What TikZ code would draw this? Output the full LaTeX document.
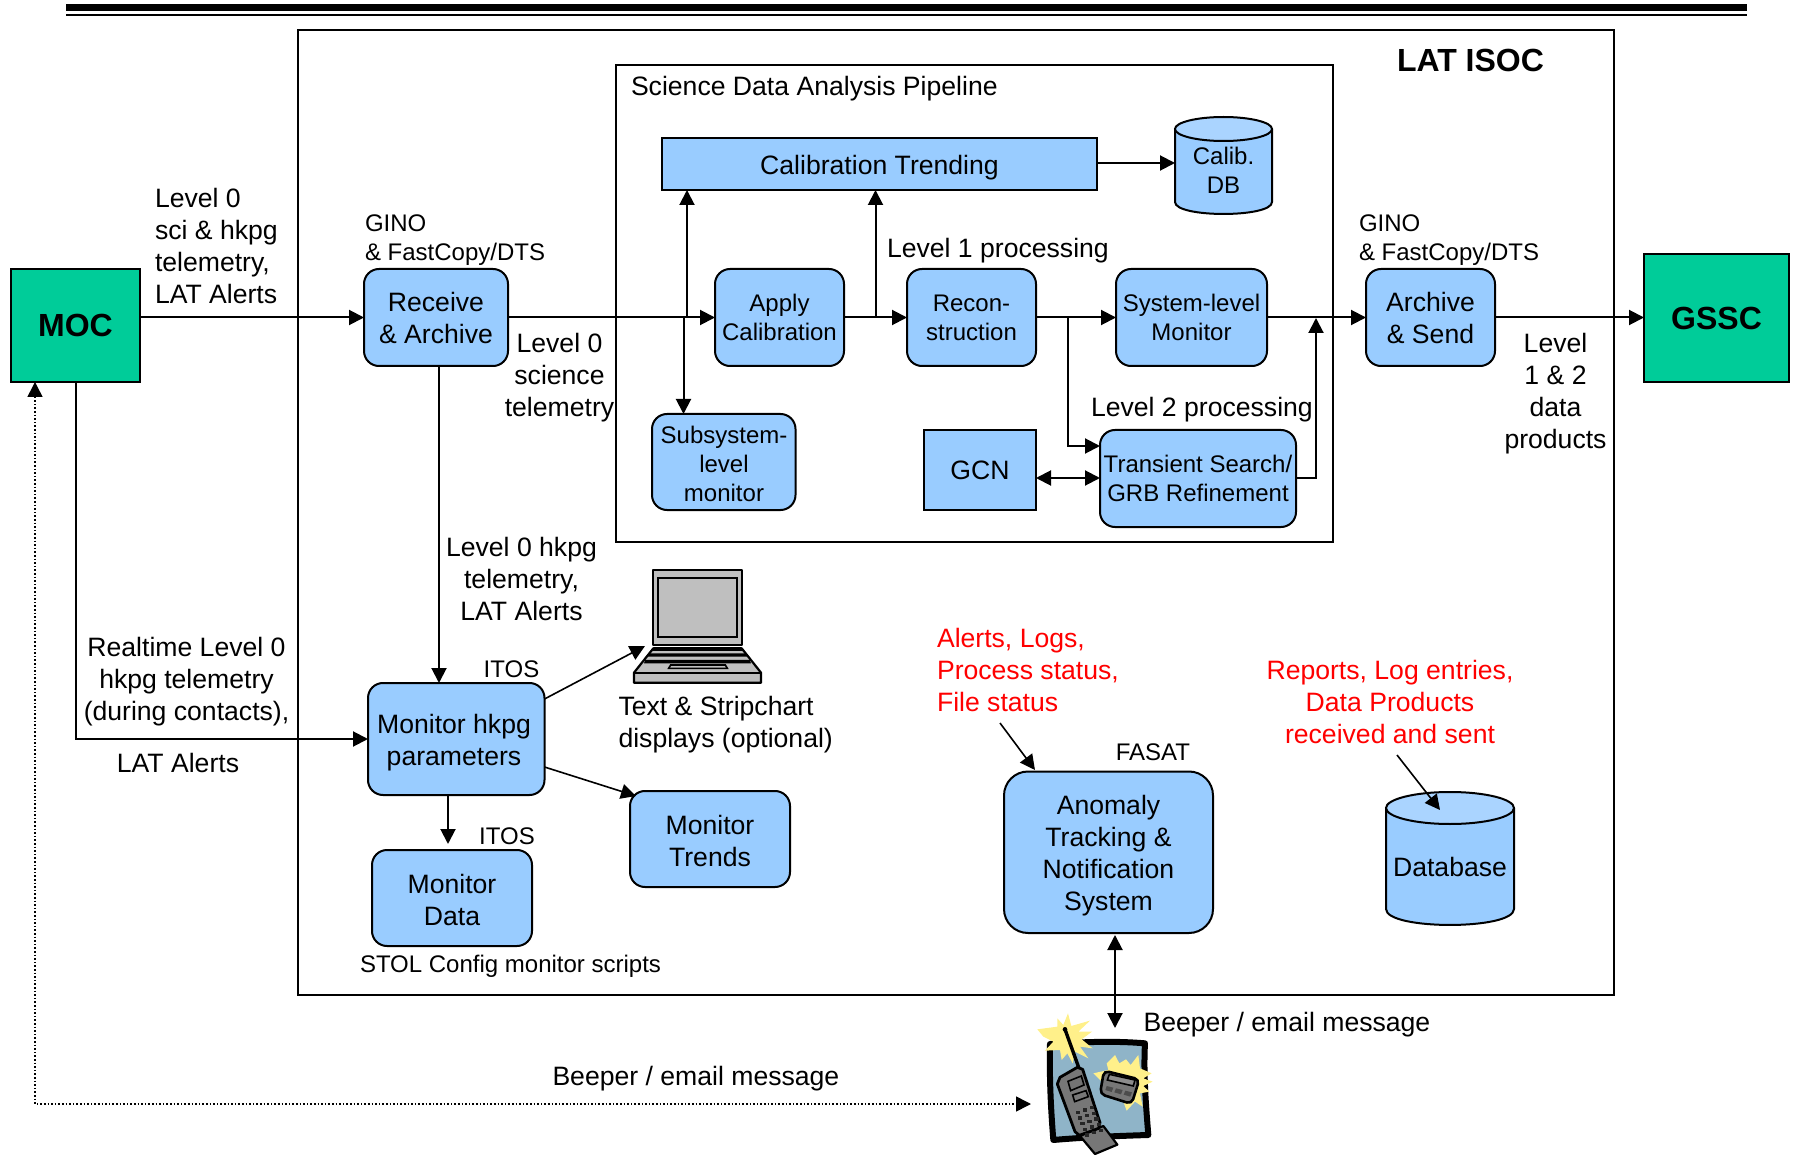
\documentclass[tikz,border=0pt]{standalone}
\usepackage{fontspec}
\setmainfont{Liberation Sans}
\usetikzlibrary{arrows.meta,calc}
\definecolor{boxblue}{HTML}{99CCFF}
\definecolor{toplight}{HTML}{AAD4FF}
\definecolor{boxgreen}{HTML}{00CC99}
\definecolor{clipblue}{HTML}{8FB4C8}
\definecolor{clipyellow}{HTML}{FFF08A}
\definecolor{clipgray}{HTML}{777777}
\newcommand\BX[7]{%
  \pgfmathsetmacro\bxcx{(#3+#5)/2}\pgfmathsetmacro\bxcy{(#4+#6)/2}%
  \pgfmathsetmacro\bxw{(#5-#3)/2}\pgfmathsetmacro\bxh{(#6-#4)/2}%
  \node[#2,minimum width=\bxw pt,minimum height=\bxh pt] (#1) at (\bxcx,\bxcy) {#7};}
\newcommand\CYL[6]{% x1 y1 x2 y2 ry name
  \pgfmathsetmacro\cyrx{(#3-#1)/2}\pgfmathsetmacro\cycx{(#1+#3)/2}%
  \fill[boxblue] (#1,#2+#5) -- (#1,#4-#5) arc[start angle=180,end angle=360,x radius=\cyrx,y radius=-#5] -- (#3,#2+#5) -- cycle;
  \draw[line] (#1,#2+#5) -- (#1,#4-#5) .. controls (#1,#4+#5*0.33) and (#3,#4+#5*0.33) .. (#3,#4-#5) -- (#3,#2+#5);
  \filldraw[line,fill=toplight] (\cycx,#2+#5) ellipse[x radius=\cyrx,y radius=#5];}
\tikzset{
  x=0.5pt,y=-0.5pt,
  line/.style={line width=1pt,draw=black},
  big/.style={font=\fontsize{13.3}{16}\selectfont},
  small/.style={font=\fontsize{12}{14.5}\selectfont},
  heavy/.style={font=\fontsize{16}{19}\selectfont\bfseries},
  plainbox/.style={line,inner sep=0pt,outer sep=0pt,align=center},
  rbox/.style={plainbox,fill=boxblue,rounded corners=7.5pt},
  sbox/.style={plainbox,fill=boxblue},
  gbox/.style={plainbox,fill=boxgreen},
  frame/.style={plainbox},
  txt/.style={inner sep=0pt,outer sep=0pt,align=center},
  ltxt/.style={inner sep=0pt,outer sep=0pt,align=left},
  red/.style={text=red},
  arr/.style={line,-{Triangle[length=7.5pt,width=7.5pt]}},
  dbl/.style={line,{Triangle[length=7.5pt,width=7.5pt]}-{Triangle[length=7.5pt,width=7.5pt]}},
  thinarr/.style={line width=0.8pt,-{Triangle[length=7.5pt,width=7.5pt]}},
}
\begin{document}
\begin{tikzpicture}
\useasboundingbox (0,0) rectangle (1801,1155);
% top rules
\fill (66,4.5) rectangle (1746.5,11);
\fill (66,13.7) rectangle (1746.5,16);
% frames
\BX{isoc}{frame}{298}{30}{1614}{995}{}
\BX{pipe}{frame}{616}{65}{1333}{542}{}
\node[txt,heavy] (isoct) at (1470.5,60) {LAT ISOC};
\node[ltxt,big,anchor=west] (pipet) at (631,88.5) {Science Data Analysis Pipeline};
% boxes
\BX{moc}{gbox,heavy}{11}{269}{140}{382}{MOC}
\BX{gssc}{gbox,heavy}{1644}{254}{1789}{382}{GSSC}
\BX{recv}{rbox,big}{364}{269}{508}{366}{Receive\\\& Archive}
\BX{cal}{sbox}{662}{138}{1097}{190}{}
\node[txt,big] (calt) at (879.5,168) {Calibration Trending};
\BX{apply}{rbox,small}{715}{269}{844}{366}{Apply\\Calibration}
\BX{recon}{rbox,small}{907}{269}{1036}{366}{Recon-\\struction}
\BX{sys}{rbox,small}{1116}{269}{1267}{366}{System-level\\Monitor}
\BX{sub}{rbox}{652}{414}{795.5}{510}{}
\node[txt,small] (subt) at (724,464) {Subsystem-\\level\\monitor};
\BX{gcn}{sbox,big}{924}{430}{1036}{510}{GCN}
\BX{trans}{rbox,small}{1100}{430}{1296}{527}{Transient Search/\\GRB Refinement}
\BX{arch}{rbox,big}{1366}{269}{1495}{366}{Archive\\\& Send}
\BX{hkpg}{rbox}{368}{683}{544.5}{795}{}
\node[txt,big] (hkpgt) at (454,743) {Monitor hkpg\\parameters};
\BX{mdata}{rbox}{372}{850}{532}{946}{}
\node[txt,big] (mdatat) at (452,900) {Monitor\\Data};
\BX{trends}{rbox}{630}{791}{790}{887}{}
\node[txt,big] (trendst) at (710,841) {Monitor\\Trends};
\BX{anom}{rbox,rounded corners=12pt}{1004}{771.5}{1213}{933}{}
\node[txt,big] (anomt) at (1108.5,856) {Anomaly\\Tracking \&\\Notification\\System};
% cylinders
\CYL{1175}{117}{1272}{214}{12}{calib}
\node[txt,small] (calibt) at (1223.5,170.5) {Calib.\\DB};
\CYL{1386}{792}{1514}{925}{16}{dbase}
\node[txt,big] (dbt) at (1450,867) {Database};
% connector helpers
\coordinate (b1) at (687,318);
\coordinate (b2) at (683.5,318);
\coordinate (b3) at (875.5,318);
\coordinate (b4) at (1067.5,318);
\coordinate (t1) at (1100,446);
\coordinate (b5) at (1316,318);
\coordinate (v1) at (439,366);
\coordinate (h1) at (448,795);
\coordinate (h2) at (544.5,699);
\coordinate (lap) at (645,646);
\coordinate (h3) at (544.5,767);
\coordinate (tr) at (636,796);
\coordinate (d1) at (35,382);
\coordinate (d2) at (1031,1104);
\coordinate (pg) at (1115,933);
\coordinate (ph) at (1115,1028);
\coordinate (ra) at (1000,723);
\coordinate (rb) at (1035,770);
\coordinate (rc) at (1397,755);
\coordinate (rd) at (1440,810);
\coordinate (g1) at (gcn.east |- 0,478);
\coordinate (g2) at (trans.west |- 0,478);
\coordinate (c1) at (cal.east |- 0,163);
\coordinate (c2) at (1175,163);
% connectors
\draw[arr] (recv.west -| moc.east) -- (recv.west);
\draw[arr] (recv.east) -- (apply.west);
\draw[arr] (b1) -- (b1 |- cal.south);
\draw[arr] (b2) -- (b2 |- sub.north);
\draw[arr] (apply.east) -- (recon.west);
\draw[arr] (b3) -- (b3 |- cal.south);
\draw[arr] (recon.east) -- (sys.west);
\draw[arr] (b4) |- (t1);
\draw[arr] (sys.east) -- (arch.west);
\draw[arr] (trans.east) -| (b5);
\draw[arr] (arch.east) -- (arch.east -| gssc.west);
\draw[arr] (c1) -- (c2);
\draw[dbl] (g1) -- (g2);
\draw[arr] (v1) -- (v1 |- hkpg.north);
\draw[arr] (moc.south) |- (hkpg.west);
\draw[arr,shorten >=3pt] (h1) -- (h1 |- mdata.north);
\draw[thinarr] (h2) -- (lap);
\draw[thinarr] (h3) -- (tr);
\draw[line width=0.8pt,densely dotted,{Triangle[length=7.5pt,width=7.5pt]}-{Triangle[length=7.5pt,width=7.5pt]}] (d1) |- (d2);
\draw[dbl,shorten <=1pt] (pg) -- (ph);
\draw[thinarr] (ra) -- (rb);
\draw[thinarr] (rc) -- (rd);
% labels
\node[ltxt,big] (l1) at (155,246) [anchor=west] {Level 0\\sci \& hkpg\\telemetry,\\LAT Alerts};
\node[ltxt,small] (gi1) at (365,240) [anchor=west] {GINO\\\& FastCopy/DTS};
\node[ltxt,small] (gi2) at (1359,240) [anchor=west] {GINO\\\& FastCopy/DTS};
\node[txt,big] (l2) at (559.5,378) {Level 0\\science\\telemetry};
\node[ltxt,big] (l3) at (887,251) [anchor=west] {Level 1 processing};
\node[ltxt,big] (l4) at (1091,410) [anchor=west] {Level 2 processing};
\node[txt,big] (l5) at (1555.5,394) {Level\\1 \& 2\\data\\products};
\node[txt,big] (l6) at (521.5,579) {Level 0 hkpg\\telemetry,\\LAT Alerts};
\node[txt,small] (i1) at (511.5,669) {ITOS};
\node[txt,small] (i2) at (507,836) {ITOS};
\node[ltxt,big] (l7) at (618.5,725) [anchor=west] {Text \& Stripchart\\displays (optional)};
\node[txt,big] (l8) at (186.5,682) {Realtime Level 0\\hkpg telemetry\\(during contacts),};
\node[txt,big] (l9) at (178,763) {LAT Alerts};
\node[txt,small] (s1) at (510.5,966) {STOL Config monitor scripts};
\node[ltxt,big,red] (r1) at (937,670) [anchor=west] {Alerts, Logs,\\Process status,\\File status};
\node[txt,big,red] (r2) at (1390,702) {Reports, Log entries,\\Data Products\\received and sent};
\node[txt,small] (f1) at (1153,752) {FASAT};
\node[ltxt,big] (be1) at (1143.5,1025) [anchor=west] {Beeper / email message};
\node[ltxt,big] (be2) at (552.5,1079) [anchor=west] {Beeper / email message};
% laptop
\begin{scope}[shift={(620,550)},x=0.5pt/3,y=-0.5pt/3]
  \filldraw[line width=1.1pt,line join=round,fill=black!25] (100,60) rectangle (365,285);
  \draw[line width=1.1pt] (115,83) rectangle (352,260);
  \filldraw[line width=1.1pt,fill=black!25,line join=round] (100,295) -- (365,295) -- (423,368) -- (423,398) -- (42,398) -- (42,368) -- cycle;
  \draw[line width=1.1pt] (42,368) -- (423,368);
  \fill (97,298) rectangle (368,304);
  \fill (88,310) -- (377,310) -- (381,320) -- (84,320) -- cycle;
  \fill (76,330) -- (389,330) -- (393,340) -- (72,340) -- cycle;
  \filldraw[line width=0.8pt,fill=black!25] (152,345) -- (316,345) -- (322,355) -- (146,355) -- cycle;
\end{scope}
% beeper and phone
\begin{scope}[shift={(1000,980)},x=0.5pt/3,y=-0.5pt/3]
  \filldraw[draw=black,line width=3pt,fill=clipblue,line join=round] (150,192) .. controls (250,186) and (340,182) .. (435,190) .. controls (430,280) and (438,380) .. (445,465) .. controls (350,468) and (250,472) .. (160,480) .. controls (152,380) and (148,290) .. (150,192) -- cycle;
  \fill[clipyellow] (112,148) -- (172,140) -- (172,115) -- (190,135) -- (204,100) -- (214,138) -- (270,122) -- (235,155) -- (276,155) -- (245,178) -- (278,205) -- (240,200) -- (265,235) -- (225,215) -- (218,250) -- (202,220) -- (185,240) -- (180,210) -- (135,212) -- (160,185) -- (130,170) -- cycle;
  \fill[clipyellow] (280,280) -- (325,270) -- (320,250) -- (345,225) -- (358,250) -- (378,238) -- (392,255) -- (415,225) -- (420,265) -- (455,280) -- (430,295) -- (458,305) -- (430,318) -- (448,335) -- (420,340) -- (428,380) -- (405,365) -- (380,392) -- (370,365) -- (340,350) -- (310,310) -- cycle;
  % pager
  \filldraw[draw=black,line width=1.3pt,fill=clipgray,rounded corners=2.5pt] (312,272) -- (418,298) -- (395,372) -- (300,342) -- cycle;
  \filldraw[draw=black,line width=0.8pt,fill=black!45] (328,283) -- (405,300) -- (400,318) -- (322,300) -- cycle;
  \fill[black!70] (320,318) -- (340,323) -- (335,336) -- (316,330) -- cycle;
  \fill[black!70] (348,325) -- (368,330) -- (363,343) -- (343,337) -- cycle;
  \fill[black!70] (376,332) -- (396,337) -- (391,350) -- (371,344) -- cycle;
  % phone
  \draw[line width=1.7pt,line cap=round] (195,148) -- (236,262);
  \fill (195,148) circle[radius=7];
  \filldraw[draw=black,line width=1.1pt,fill=clipgray,line join=round] (240,468) -- (310,438) -- (352,494) -- (285,522) -- cycle;
  \filldraw[draw=black,line width=1.4pt,fill=clipgray,line join=round] (172,312) -- (180,292) -- (232,262) -- (248,268) -- (300,428) -- (296,445) -- (238,466) -- (225,455) -- cycle;
  \filldraw[draw=black,line width=0.8pt,fill=black!55] (204,304) -- (244,288) -- (252,315) -- (212,332) -- cycle;
  \draw[line width=0.8pt] (218,345) -- (258,332) -- (265,350) -- (224,365) -- cycle;
  \foreach \i in {0,1,2,3,4}{\foreach \j in {0,1,2}{
    \fill[black!85] ($(227,392)+(\j*21,-\j*7)+(\i*7,\i*17)$) rectangle +(13,10);
  }}
\end{scope}
\end{tikzpicture}
\end{document}
